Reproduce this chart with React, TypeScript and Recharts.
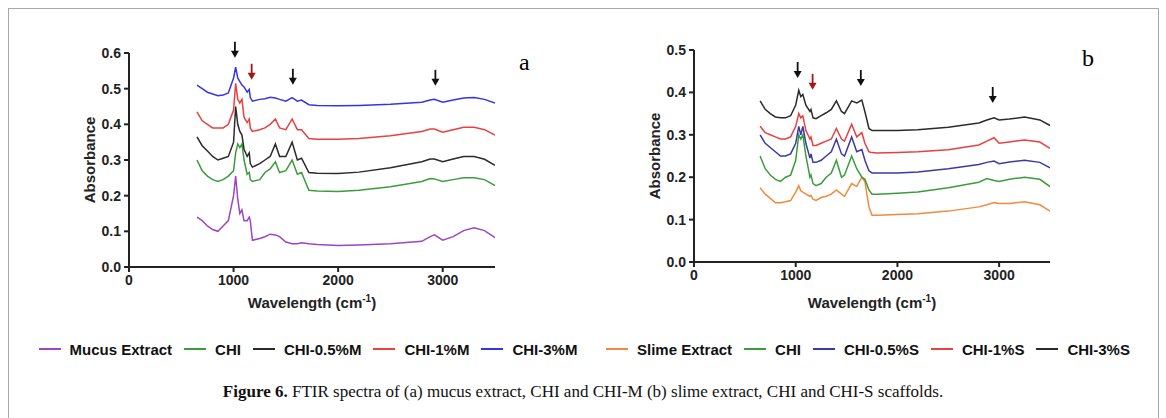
import React from "react";
import { ComposedChart, Line, Scatter, XAxis, YAxis, Label } from "recharts";

// panel a: mucus extract, CHI and CHI-M
const WAVE_A = [
  650, 700, 750, 800, 850, 900, 950, 1000, 1020, 1040, 1060, 1080, 1100, 1130, 1150, 1160, 1180, 1250, 1300, 1350,
  1400, 1440, 1500, 1560, 1610, 1650, 1720, 1800, 2000, 2200, 2500, 2800, 2880, 2920, 3000, 3100, 3200, 3300, 3400, 3500,
];
const MUCUS_EXTRACT = [
  0.14, 0.13, 0.115, 0.105, 0.1, 0.115, 0.13, 0.2, 0.255, 0.19, 0.15, 0.16, 0.13, 0.13, 0.14, 0.13, 0.075, 0.08, 0.085, 0.092,
  0.09, 0.085, 0.07, 0.065, 0.065, 0.068, 0.065, 0.063, 0.06, 0.062, 0.065, 0.072, 0.085, 0.09, 0.075, 0.085, 0.102, 0.11, 0.102, 0.082,
];
const CHI_A = [
  0.3, 0.27, 0.255, 0.245, 0.24, 0.245, 0.255, 0.27, 0.32, 0.345, 0.335, 0.345, 0.3, 0.26, 0.265, 0.245, 0.24, 0.245, 0.265, 0.275,
  0.295, 0.265, 0.27, 0.3, 0.26, 0.265, 0.215, 0.213, 0.212, 0.215, 0.225, 0.24, 0.248, 0.247, 0.24, 0.245, 0.25, 0.25, 0.245, 0.228,
];
const CHI_05M = [
  0.365, 0.34, 0.325, 0.31, 0.3, 0.305, 0.31, 0.35, 0.45, 0.4, 0.38, 0.37, 0.33, 0.31, 0.32, 0.29, 0.28, 0.29, 0.3, 0.31,
  0.345, 0.31, 0.31, 0.35, 0.3, 0.305, 0.265, 0.263, 0.262, 0.266, 0.278, 0.295, 0.303, 0.303, 0.295, 0.303, 0.31, 0.31, 0.302, 0.285,
];
const CHI_1M = [
  0.435, 0.41, 0.4, 0.39, 0.39, 0.39, 0.4, 0.44, 0.515, 0.47, 0.46, 0.47, 0.42, 0.405, 0.415, 0.39, 0.38, 0.385, 0.39, 0.4,
  0.415, 0.39, 0.385, 0.415, 0.385, 0.385, 0.36, 0.358, 0.358, 0.36, 0.368, 0.38, 0.387, 0.387, 0.378, 0.385, 0.392, 0.392, 0.385, 0.37,
];
const CHI_3M = [
  0.51, 0.5, 0.49, 0.485, 0.48, 0.482, 0.488, 0.53, 0.56, 0.53, 0.52, 0.51, 0.505, 0.49, 0.498, 0.475, 0.465, 0.47, 0.472, 0.476,
  0.474, 0.47, 0.465, 0.475, 0.465, 0.468, 0.455, 0.453, 0.452, 0.453, 0.456, 0.462, 0.468, 0.47, 0.462, 0.468, 0.474, 0.475, 0.47, 0.46,
];

// panel b: slime extract, CHI and CHI-S
const WAVE_B = [
  650, 700, 750, 800, 850, 900, 950, 1000, 1030, 1050, 1070, 1100, 1140, 1150, 1170, 1200, 1250, 1300, 1350, 1400,
  1450, 1480, 1550, 1600, 1650, 1680, 1720, 1750, 1800, 2000, 2200, 2500, 2800, 2880, 2950, 3000, 3100, 3250, 3400, 3500,
];
const SLIME_EXTRACT = [
  0.175, 0.16, 0.15, 0.14, 0.14, 0.142, 0.145, 0.165, 0.18, 0.168, 0.165, 0.16, 0.155, 0.157, 0.148, 0.145, 0.152, 0.155, 0.16, 0.17,
  0.16, 0.155, 0.185, 0.178, 0.2, 0.19, 0.13, 0.11, 0.11, 0.112, 0.114, 0.12, 0.13, 0.135, 0.14, 0.138, 0.138, 0.142, 0.135, 0.12,
];
const CHI_B = [
  0.25, 0.22, 0.205, 0.195, 0.19, 0.2, 0.205, 0.24, 0.3, 0.29, 0.3, 0.25, 0.2, 0.205, 0.185, 0.18, 0.185, 0.2, 0.21, 0.24,
  0.2, 0.205, 0.25, 0.22, 0.2, 0.195, 0.17, 0.16, 0.16, 0.162, 0.165, 0.175, 0.188, 0.197, 0.192, 0.19, 0.195, 0.2, 0.195, 0.178,
];
const CHI_05S = [
  0.3, 0.28, 0.27, 0.26, 0.25, 0.25, 0.255, 0.28, 0.32, 0.3, 0.32, 0.28, 0.245, 0.255, 0.235, 0.235, 0.24, 0.25, 0.26, 0.29,
  0.255, 0.25, 0.295, 0.26, 0.265, 0.24, 0.215, 0.21, 0.21, 0.21, 0.212, 0.22, 0.23, 0.235, 0.238, 0.232, 0.236, 0.24, 0.235, 0.222,
];
const CHI_1S = [
  0.32, 0.305, 0.3, 0.295, 0.29, 0.29, 0.295, 0.32, 0.35, 0.34, 0.345, 0.31, 0.29, 0.295, 0.275, 0.275, 0.28, 0.285, 0.29, 0.315,
  0.29, 0.285, 0.325, 0.295, 0.305, 0.28, 0.26, 0.258, 0.257, 0.258, 0.26, 0.265, 0.276, 0.285, 0.293, 0.28, 0.283, 0.288, 0.283, 0.268,
];
const CHI_3S = [
  0.38, 0.36, 0.35, 0.342, 0.34, 0.34, 0.345, 0.37, 0.405, 0.39, 0.395, 0.37, 0.355, 0.36, 0.34, 0.338, 0.345, 0.352, 0.36, 0.38,
  0.355, 0.35, 0.38, 0.375, 0.382, 0.355, 0.315, 0.31, 0.31, 0.31, 0.312, 0.318, 0.328, 0.335, 0.34, 0.335, 0.337, 0.342, 0.335, 0.322,
];

// peak markers (arrow tip positions)
const ARROW_A_X = [1013, 1173, 1567, 2930];
const ARROW_A_Y = [0.587, 0.525, 0.511, 0.508];
const ARROW_B_X = [1019, 1166, 1640, 2937];
const ARROW_B_Y = [0.434, 0.406, 0.415, 0.375];
const ARROW_RED = [false, true, false, false];

const X_TICKS = [0, 1000, 2000, 3000];
const Y_TICKS_A = [0, 0.1, 0.2, 0.3, 0.4, 0.5, 0.6];
const Y_TICKS_B = [0, 0.1, 0.2, 0.3, 0.4, 0.5];

const SANS = "'Liberation Sans', Arial, sans-serif";
const SERIF = "'Liberation Serif', 'Times New Roman', serif";

const seriesA = [
  { key: "mucus", name: "Mucus Extract", values: MUCUS_EXTRACT, color: "#9d45c2" },
  { key: "chi", name: "CHI", values: CHI_A, color: "#3c9c3c" },
  { key: "chi05", name: "CHI-0.5%M", values: CHI_05M, color: "#2b2b2b" },
  { key: "chi1", name: "CHI-1%M", values: CHI_1M, color: "#e8413f" },
  { key: "chi3", name: "CHI-3%M", values: CHI_3M, color: "#3434ec" },
];
const seriesB = [
  { key: "slime", name: "Slime Extract", values: SLIME_EXTRACT, color: "#f18a3c" },
  { key: "chi", name: "CHI", values: CHI_B, color: "#3c9c3c" },
  { key: "chi05", name: "CHI-0.5%S", values: CHI_05S, color: "#3a3aa6" },
  { key: "chi1", name: "CHI-1%S", values: CHI_1S, color: "#e8413f" },
  { key: "chi3", name: "CHI-3%S", values: CHI_3S, color: "#2b2b2b" },
];

type Series = { key: string; name: string; values: number[]; color: string };

function buildRows(waves: number[], series: Series[]) {
  return waves.map((x, i) => {
    const row: Record<string, number> = { x };
    series.forEach((s) => (row[s.key] = s.values[i]));
    return row;
  });
}

function Arrow(props: any) {
  const { cx, cy, payload } = props;
  const color = payload.red ? "#a0161a" : "#111";
  return (
    <g>
      <line x1={cx} y1={cy - 16} x2={cx} y2={cy - 6} stroke={color} strokeWidth={1.8} />
      <path d={`M${cx - 4},${cy - 7} L${cx + 4},${cy - 7} L${cx},${cy} Z`} fill={color} />
    </g>
  );
}

const tickStyle = { fontFamily: SANS, fontWeight: 700, fontSize: 14, fill: "#222" };

function Panel(props: {
  width: number;
  margin: { top: number; right: number; bottom: number; left: number };
  waves: number[];
  series: Series[];
  yMax: number;
  yTicks: number[];
  arrowX: number[];
  arrowY: number[];
  yTitleX: number;
  xTitleDy: number;
}) {
  const { width, margin, waves, series, yMax, yTicks, arrowX, arrowY, yTitleX, xTitleDy } = props;
  const rows = buildRows(waves, series);
  const arrows = arrowX.map((x, i) => ({ x, y: arrowY[i], red: ARROW_RED[i] }));
  return (
    <ComposedChart width={width} height={320} data={rows} margin={margin}>
      <XAxis
        dataKey="x"
        type="number"
        domain={[0, 3500]}
        ticks={X_TICKS}
        height={40}
        stroke="#222"
        strokeWidth={2}
        tickSize={5}
        tickMargin={3}
        tick={tickStyle}
        allowDataOverflow
      >
        <Label
          content={(p: any) => {
            const vb = p.viewBox;
            return (
              <text
                x={vb.x + vb.width / 2}
                y={vb.y + xTitleDy}
                textAnchor="middle"
                fontFamily={SANS}
                fontWeight={700}
                fontSize={15}
                fill="#222"
              >
                Wavelength (cm
                <tspan dy={-6} fontSize={10}>
                  -1
                </tspan>
                <tspan dy={6}>)</tspan>
              </text>
            );
          }}
        />
      </XAxis>
      <YAxis
        type="number"
        domain={[0, yMax]}
        ticks={yTicks}
        width={60}
        stroke="#222"
        strokeWidth={2}
        tickSize={5}
        tickMargin={3}
        tick={tickStyle}
        tickFormatter={(v) => Number(v).toFixed(1)}
      >
        <Label
          content={(p: any) => {
            const vb = p.viewBox;
            const cy = vb.y + vb.height / 2;
            return (
              <text
                x={yTitleX}
                y={cy}
                transform={`rotate(-90, ${yTitleX}, ${cy})`}
                textAnchor="middle"
                dominantBaseline="central"
                fontFamily={SANS}
                fontWeight={700}
                fontSize={15}
                fill="#222"
              >
                Absorbance
              </text>
            );
          }}
        />
      </YAxis>
      {series.map((s) => (
        <Line
          key={s.key}
          dataKey={s.key}
          name={s.name}
          stroke={s.color}
          strokeWidth={1.5}
          dot={false}
          type="linear"
          isAnimationActive={false}
        />
      ))}
      <Scatter data={arrows} dataKey="y" shape={<Arrow />} isAnimationActive={false} legendType="none" />
    </ComposedChart>
  );
}

function LegendRow({ series, center }: { series: Series[]; center: number }) {
  return (
    <div
      style={{
        position: "absolute",
        top: 340,
        left: center - 300,
        width: 600,
        height: 18,
        display: "flex",
        justifyContent: "center",
        alignItems: "center",
        fontFamily: SANS,
        fontWeight: 700,
        fontSize: 15,
        color: "#111",
        whiteSpace: "nowrap",
      }}
    >
      {series.map((s, i) => (
        <div key={s.key} style={{ display: "flex", alignItems: "center", marginLeft: i === 0 ? 0 : 12 }}>
          <span style={{ display: "inline-block", width: 22, height: 2, background: s.color, marginRight: 9 }} />
          <span>{s.name}</span>
        </div>
      ))}
    </div>
  );
}

export default function App() {
  return (
    <div
      style={{
        position: "absolute",
        left: 0,
        top: 0,
        width: 1166,
        height: 418,
        background: "#fff",
        overflow: "hidden",
      }}
    >
      <div
        style={{
          position: "absolute",
          left: 8,
          top: 8,
          width: 1149,
          height: 430,
          border: "1px solid #a8a8a8",
        }}
      />
      <div style={{ position: "absolute", left: 0, top: 0 }}>
        <Panel
          width={560}
          margin={{ top: 53, right: 65, bottom: 13, left: 69 }}
          waves={WAVE_A}
          series={seriesA}
          yMax={0.6}
          yTicks={Y_TICKS_A}
          arrowX={ARROW_A_X}
          arrowY={ARROW_A_Y}
          yTitleX={89}
          xTitleDy={41}
        />
      </div>
      <div style={{ position: "absolute", left: 580, top: 0 }}>
        <Panel
          width={586}
          margin={{ top: 50, right: 116, bottom: 18, left: 54 }}
          waves={WAVE_B}
          series={seriesB}
          yMax={0.5}
          yTicks={Y_TICKS_B}
          arrowX={ARROW_B_X}
          arrowY={ARROW_B_Y}
          yTitleX={74}
          xTitleDy={46}
        />
      </div>
      <div style={{ position: "absolute", left: 519, top: 50, fontFamily: SERIF, fontSize: 24, lineHeight: "24px" }}>
        a
      </div>
      <div style={{ position: "absolute", left: 1082, top: 46, fontFamily: SERIF, fontSize: 24, lineHeight: "24px" }}>
        b
      </div>
      <LegendRow series={seriesA} center={308} />
      <LegendRow series={seriesB} center={868} />
      <div
        style={{
          position: "absolute",
          left: 0,
          top: 381,
          width: 1166,
          textAlign: "center",
          fontFamily: SERIF,
          fontSize: 17,
          lineHeight: "22px",
          color: "#111",
        }}
      >
        <b>Figure 6.</b> FTIR spectra of (a) mucus extract, CHI and CHI-M (b) slime extract, CHI and CHI-S scaffolds.
      </div>
    </div>
  );
}
